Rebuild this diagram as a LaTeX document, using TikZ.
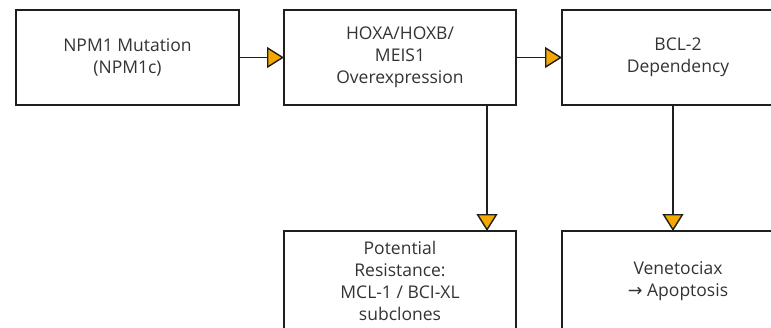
\documentclass[tikz,border=0pt]{standalone}
\usepackage{fontspec}
\setmainfont{Open Sans}
\newfontfamily\symfont{DejaVu Sans}
\usetikzlibrary{arrows.meta,positioning}
\definecolor{tipfill}{HTML}{F5A800}
\definecolor{edge}{HTML}{1E1E1E}
\tikzset{
  base/.style={font=\fontsize{17.5}{22}\selectfont, align=center, inner sep=2pt, outer sep=0pt},
  block/.style={rectangle, draw=edge, line width=1.8pt, minimum height=95pt, text=black!80, base},
  arrow/.style={-{Triangle[length=17pt,width=21pt,fill=tipfill]}, line width=1.4pt, draw=edge}
}

\begin{document}
\begin{tikzpicture}[x=1pt, y=1pt, node distance=45pt and 45pt]
  \useasboundingbox (0,0) rectangle (771,-327);
  \clip (0,0) rectangle (771,-327);

  \node[block, minimum width=223pt] (mut) at (127.5,-57.5) {NPM1 Mutation\\(NPM1c)};
  \node[block, minimum width=232pt, right=45pt of mut] (hox) {HOXA/HOXB/\\MEIS1\\Overexpression};
  \node[block, minimum width=232pt, right=46pt of hox] (bcl) {BCL-2\\Dependency};
  \node[block, minimum width=232pt, minimum height=100pt, below=126pt of hox.south, anchor=north] (res) {Potential\\Resistance:\\MCL-1 / BCI-XL\\subclones};
  \node[block, minimum width=232pt, minimum height=100pt, below=126pt of bcl.south, anchor=north] (ven) {Venetociax\\{\symfont →} Apoptosis};

  \draw[arrow] (mut) -- (hox);
  \draw[arrow] (hox) -- (bcl);
  \draw[arrow] ([xshift=87pt]hox.south) -- ([xshift=87pt]res.north);
  \draw[arrow] ([xshift=-5pt]bcl.south) -- ([xshift=-5pt]ven.north);
\end{tikzpicture}
\end{document}
